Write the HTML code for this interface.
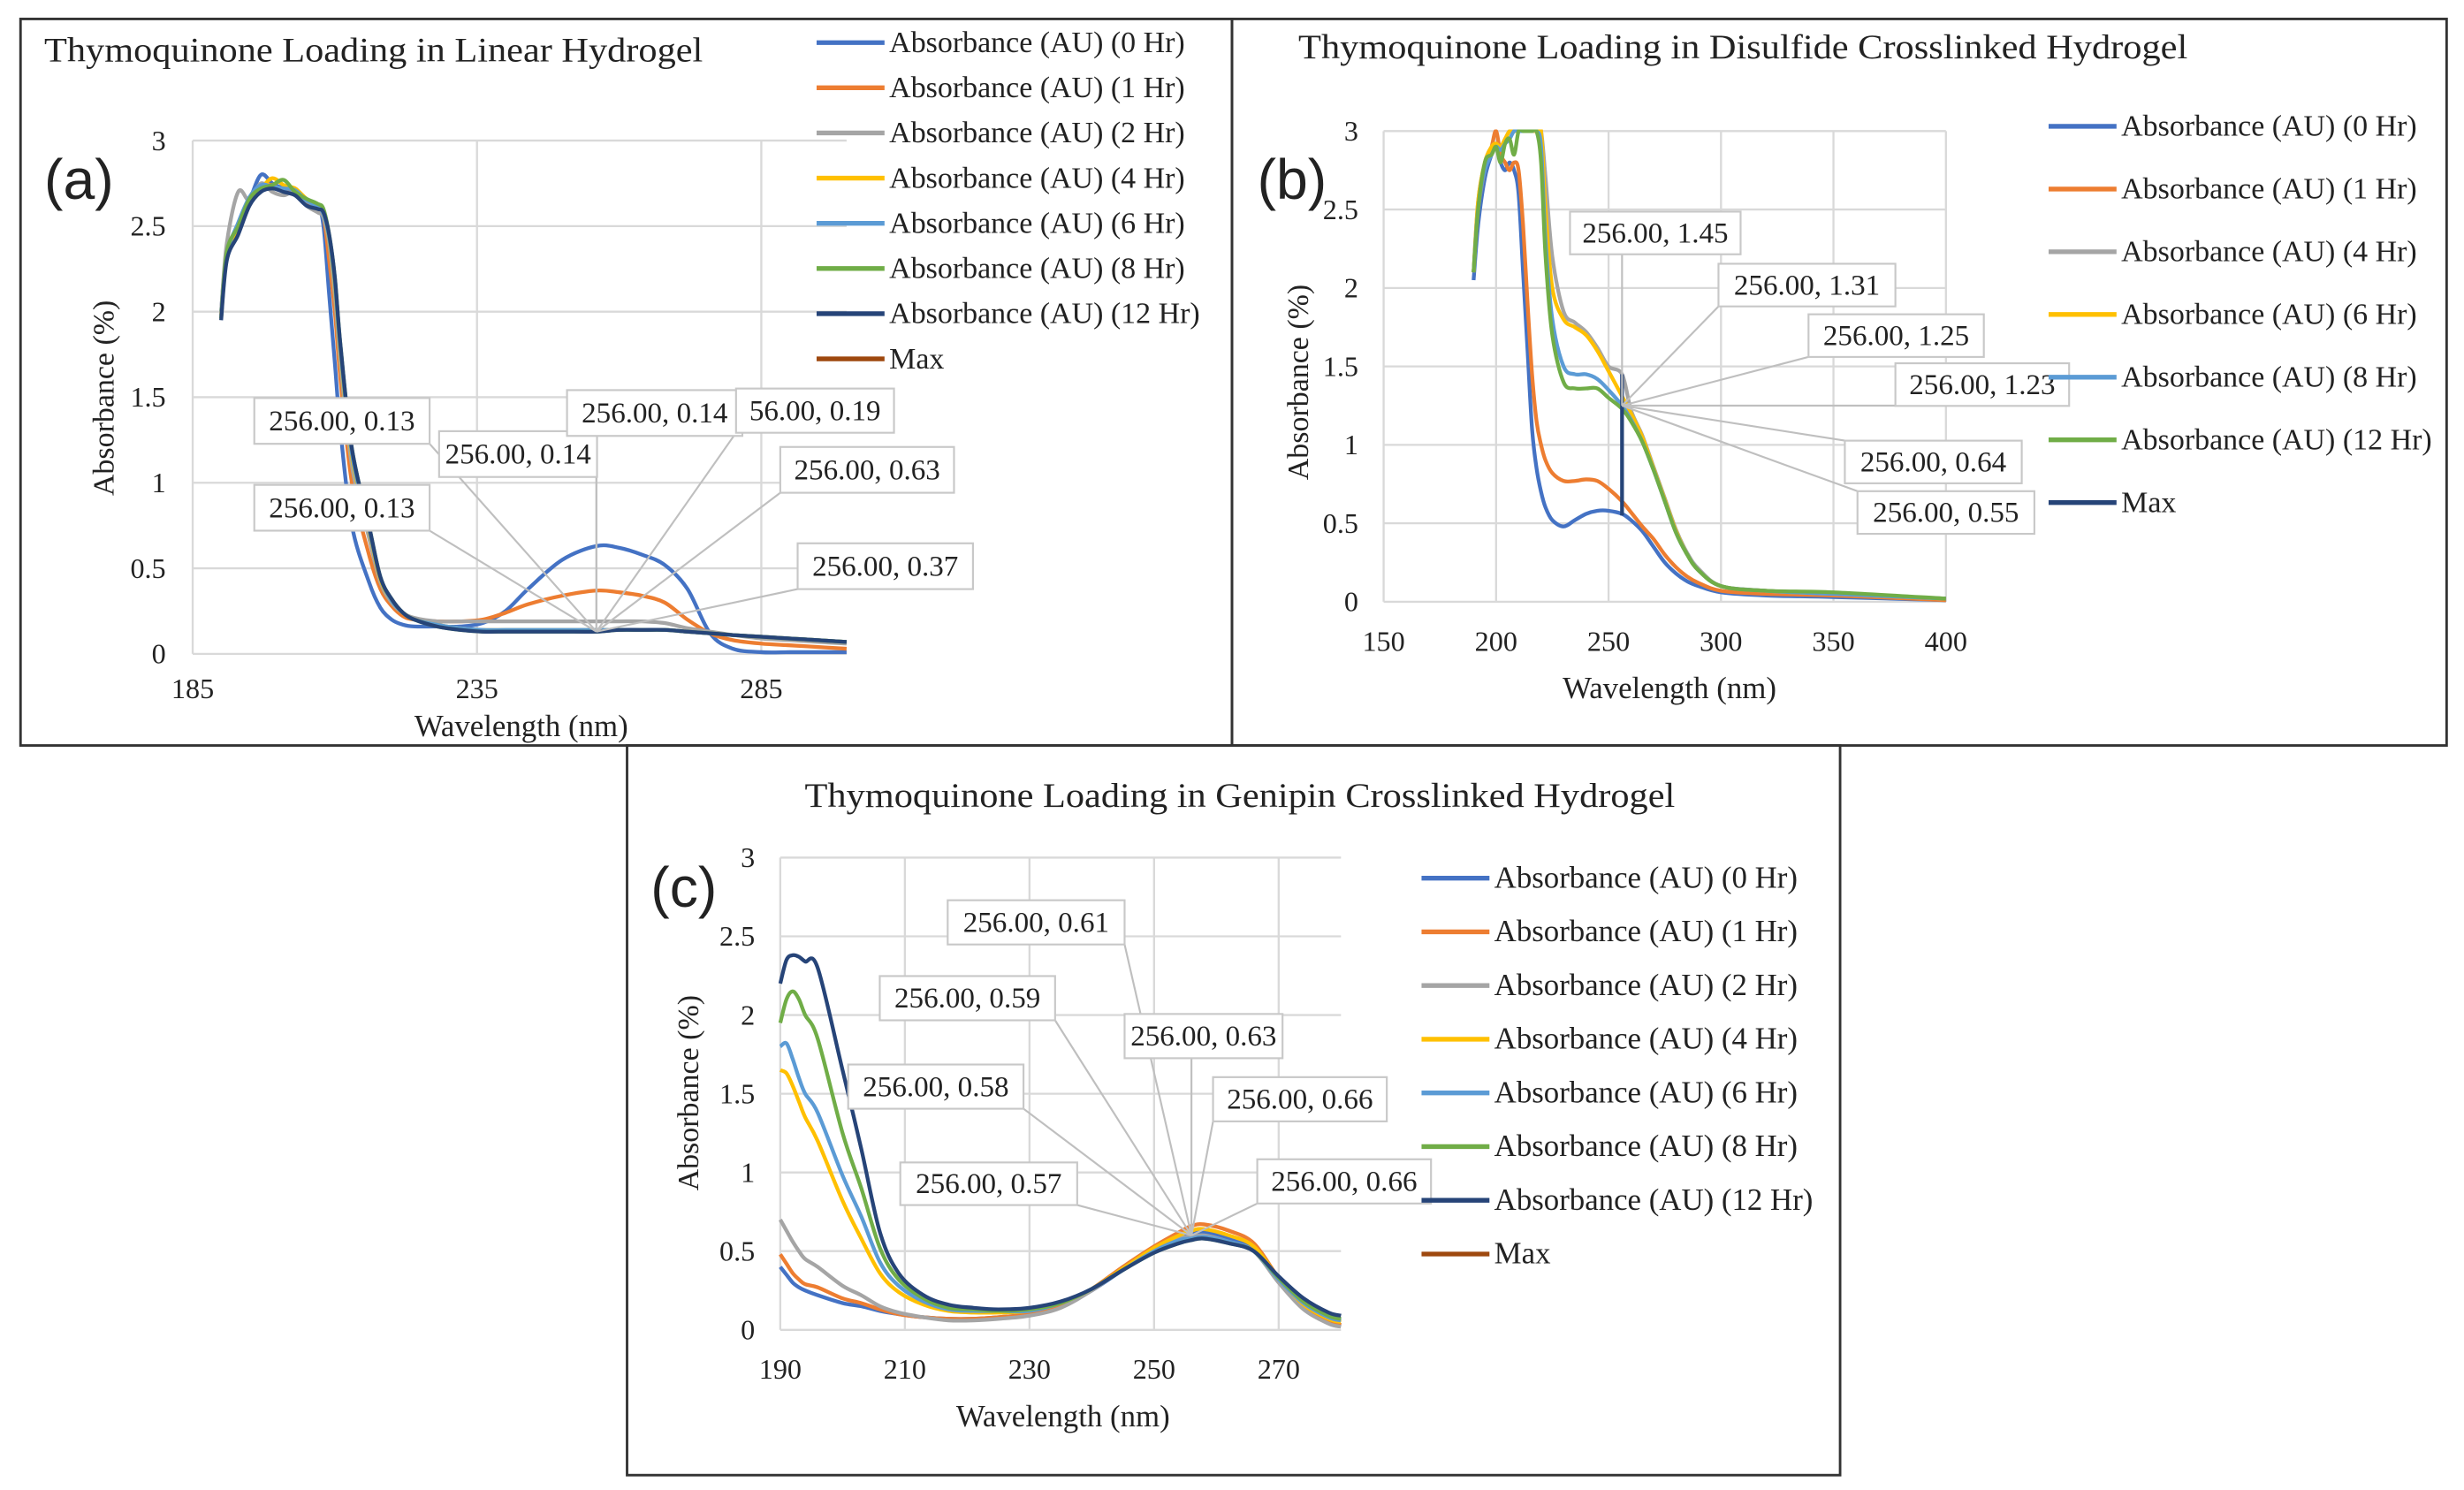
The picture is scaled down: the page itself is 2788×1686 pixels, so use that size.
<!DOCTYPE html>
<html><head><meta charset="utf-8"><style>
html,body{margin:0;padding:0;background:#fff;}
svg{display:block;}
text{font-family:"Liberation Serif",serif;fill:#222;}
</style></head><body>
<svg id="root" width="2788" height="1686" viewBox="0 0 1560 943.4" preserveAspectRatio="none" xmlns="http://www.w3.org/2000/svg">
<rect x="0" y="0" width="1560" height="944" fill="#fff"/>
<rect x="13" y="12" width="767" height="460" fill="none" stroke="#333" stroke-width="1.6"/>
<rect x="780" y="12" width="769" height="460" fill="none" stroke="#333" stroke-width="1.6"/>
<rect x="397" y="472" width="768" height="462" fill="none" stroke="#333" stroke-width="1.6"/>
<g id="ga"></g>
<g id="gb"></g>
<g id="gc"></g>
</svg>
<script>
// ---------- Data: chart (a) ----------
const wlA = [190,191,193,195,197,199,201,203,205,207,208,209,210,211,213,216,218,220,222,224,228,232,236,240,244,250,256,260,264,268,272,276,280,285,290,295,300];
const a0 = [2.0,2.35,2.5,2.65,2.8,2.75,2.72,2.7,2.65,2.62,2.5,2.1,1.7,1.3,0.75,0.42,0.27,0.2,0.17,0.16,0.16,0.16,0.18,0.25,0.38,0.55,0.63,0.62,0.58,0.52,0.38,0.12,0.03,0.01,0.01,0.01,0.01];
const a1 = [1.98,2.32,2.48,2.64,2.72,2.74,2.7,2.72,2.64,2.6,2.56,2.3,2.0,1.6,1.0,0.58,0.38,0.28,0.22,0.2,0.19,0.19,0.2,0.24,0.29,0.34,0.37,0.36,0.34,0.3,0.2,0.12,0.08,0.06,0.05,0.04,0.03];
const a2 = [2.0,2.4,2.7,2.65,2.75,2.7,2.68,2.7,2.62,2.58,2.55,2.4,2.1,1.7,1.1,0.68,0.42,0.3,0.24,0.21,0.19,0.19,0.19,0.19,0.19,0.19,0.19,0.19,0.19,0.18,0.15,0.13,0.11,0.09,0.08,0.07,0.06];
const a4 = [1.96,2.32,2.5,2.66,2.72,2.78,2.74,2.72,2.66,2.62,2.57,2.42,2.15,1.75,1.15,0.72,0.44,0.31,0.24,0.2,0.17,0.15,0.14,0.14,0.14,0.14,0.14,0.14,0.14,0.14,0.13,0.12,0.11,0.1,0.09,0.08,0.07];
const a6 = [1.97,2.33,2.52,2.67,2.74,2.73,2.72,2.71,2.65,2.61,2.57,2.43,2.17,1.77,1.17,0.73,0.45,0.31,0.24,0.2,0.17,0.15,0.14,0.14,0.14,0.14,0.14,0.14,0.14,0.14,0.13,0.12,0.11,0.1,0.09,0.08,0.07];
const a8 = [1.96,2.35,2.5,2.66,2.72,2.74,2.77,2.7,2.66,2.63,2.6,2.45,2.2,1.8,1.2,0.75,0.45,0.32,0.24,0.2,0.16,0.14,0.13,0.13,0.13,0.13,0.13,0.14,0.14,0.14,0.13,0.12,0.11,0.1,0.09,0.08,0.07];
const a12 = [1.95,2.3,2.45,2.62,2.7,2.72,2.7,2.68,2.62,2.6,2.58,2.45,2.2,1.8,1.2,0.75,0.45,0.32,0.24,0.2,0.16,0.14,0.13,0.13,0.13,0.13,0.13,0.14,0.14,0.14,0.13,0.12,0.11,0.1,0.09,0.08,0.07];
const xTicksA = [185,235,285];
const yTicks = [0,0.5,1,1.5,2,2.5,3];
const yTickLabels = ["0","0.5","1","1.5","2","2.5","3"];
const labelsA = ["256.00, 0.13","256.00, 0.14","256.00, 0.14","56.00, 0.19","256.00, 0.63","256.00, 0.13","256.00, 0.37"];
const legendA = ["Absorbance (AU) (0 Hr)","Absorbance (AU) (1 Hr)","Absorbance (AU) (2 Hr)","Absorbance (AU) (4 Hr)","Absorbance (AU) (6 Hr)","Absorbance (AU) (8 Hr)","Absorbance (AU) (12 Hr)","Max"];

// ---------- Data: chart (b) ----------
const wlB = [190,192,195,198,200,202,204,206,208,210,212,214,216,218,220,222,225,230,235,240,245,250,256,260,265,270,275,280,285,290,300,320,350,400];
const b0 = [2.05,2.4,2.7,2.85,2.9,2.8,2.75,2.8,2.75,2.6,2.1,1.6,1.1,0.85,0.7,0.6,0.52,0.48,0.52,0.56,0.58,0.58,0.56,0.52,0.45,0.35,0.25,0.18,0.13,0.1,0.06,0.04,0.03,0.01];
const b1 = [2.1,2.5,2.75,2.9,3.0,2.85,2.8,2.75,2.8,2.75,2.4,1.9,1.45,1.15,1.0,0.9,0.82,0.77,0.77,0.78,0.77,0.72,0.64,0.57,0.48,0.4,0.3,0.22,0.16,0.12,0.07,0.05,0.04,0.01];
const b4 = [2.1,2.55,2.8,2.9,2.92,2.9,2.95,3,3,3,3,3,3,3,3,2.7,2.2,1.85,1.78,1.72,1.62,1.5,1.45,1.22,1.06,0.86,0.66,0.46,0.31,0.21,0.1,0.07,0.05,0.02];
const b6 = [2.1,2.55,2.8,2.9,2.92,2.9,2.95,3,3,3,3,3,3,3,3,2.5,2.0,1.8,1.75,1.7,1.6,1.47,1.31,1.2,1.05,0.85,0.65,0.45,0.3,0.2,0.1,0.07,0.05,0.02];
const b8 = [2.1,2.5,2.75,2.85,2.9,2.88,2.92,2.95,3,3,3,3,3,3,2.9,2.3,1.8,1.5,1.45,1.45,1.42,1.35,1.25,1.16,1.02,0.84,0.64,0.44,0.3,0.2,0.1,0.07,0.05,0.02];
const b12 = [2.1,2.5,2.8,2.85,2.9,2.8,2.92,2.95,2.85,3,3,3,3,3,2.8,2.2,1.7,1.4,1.36,1.36,1.36,1.3,1.23,1.15,1.02,0.84,0.64,0.44,0.3,0.2,0.1,0.07,0.06,0.02];
const maxBx = [256,256];
const maxBy = [0.55,1.45];
const xTicksB = [150,200,250,300,350,400];
const labelsB = ["256.00, 1.45","256.00, 1.31","256.00, 1.25","256.00, 1.23","256.00, 0.64","256.00, 0.55"];
const legendB = ["Absorbance (AU) (0 Hr)","Absorbance (AU) (1 Hr)","Absorbance (AU) (4 Hr)","Absorbance (AU) (6 Hr)","Absorbance (AU) (8 Hr)","Absorbance (AU) (12 Hr)","Max"];

// ---------- Data: chart (c) ----------
const wlC = [190,191,192,193,194,196,200,203,206,209,213,217,221,225,230,235,240,245,250,254,256,258,262,266,270,274,278,280];
const c0 = [0.4,0.35,0.3,0.27,0.25,0.22,0.17,0.15,0.12,0.1,0.08,0.07,0.07,0.08,0.1,0.15,0.25,0.38,0.5,0.57,0.61,0.62,0.58,0.52,0.32,0.15,0.05,0.03];
const c1 = [0.48,0.42,0.36,0.32,0.29,0.27,0.2,0.17,0.13,0.1,0.08,0.07,0.07,0.08,0.1,0.15,0.26,0.4,0.53,0.62,0.66,0.67,0.63,0.55,0.33,0.15,0.06,0.03];
const c2 = [0.7,0.63,0.56,0.5,0.45,0.4,0.28,0.22,0.15,0.11,0.08,0.06,0.06,0.07,0.09,0.14,0.25,0.39,0.51,0.58,0.59,0.6,0.56,0.5,0.3,0.13,0.04,0.02];
const c4 = [1.65,1.63,1.55,1.45,1.35,1.2,0.82,0.58,0.36,0.24,0.16,0.12,0.11,0.11,0.12,0.17,0.26,0.39,0.52,0.6,0.63,0.64,0.6,0.53,0.33,0.16,0.07,0.05];
const c6 = [1.8,1.82,1.72,1.6,1.5,1.38,0.98,0.72,0.43,0.28,0.18,0.13,0.12,0.12,0.12,0.17,0.26,0.38,0.5,0.57,0.58,0.59,0.56,0.5,0.32,0.17,0.08,0.06];
const c8 = [1.95,2.1,2.15,2.1,2.0,1.85,1.25,0.9,0.52,0.32,0.2,0.14,0.13,0.12,0.13,0.17,0.26,0.38,0.49,0.55,0.57,0.58,0.55,0.5,0.33,0.18,0.09,0.07];
const c12 = [2.2,2.35,2.38,2.37,2.34,2.3,1.65,1.15,0.62,0.36,0.22,0.16,0.14,0.13,0.14,0.18,0.26,0.38,0.49,0.55,0.57,0.58,0.55,0.5,0.34,0.2,0.11,0.09];
const xTicksC = [190,210,230,250,270];
const labelsC = ["256.00, 0.61","256.00, 0.59","256.00, 0.63","256.00, 0.58","256.00, 0.66","256.00, 0.57","256.00, 0.66"];
const legendC = ["Absorbance (AU) (0 Hr)","Absorbance (AU) (1 Hr)","Absorbance (AU) (2 Hr)","Absorbance (AU) (4 Hr)","Absorbance (AU) (6 Hr)","Absorbance (AU) (8 Hr)","Absorbance (AU) (12 Hr)","Max"];

const COL = {h0:"#4472C4",h1:"#ED7D31",h2:"#A5A5A5",h4:"#FFC000",h6:"#5B9BD5",h8:"#70AD47",h12:"#264478",max:"#9E480E"};
const NS = "http://www.w3.org/2000/svg";
function mk(tag, attrs, parent){const e=document.createElementNS(NS,tag);for(const k in attrs)e.setAttribute(k,attrs[k]);parent.appendChild(e);return e;}
function smoothPath(pts){
  let d="M"+pts[0][0].toFixed(2)+","+pts[0][1].toFixed(2);
  for(let i=0;i<pts.length-1;i++){
    const p0=pts[Math.max(0,i-1)],p1=pts[i],p2=pts[i+1],p3=pts[Math.min(pts.length-1,i+2)];
    const c1x=p1[0]+(p2[0]-p0[0])/6,c1y=p1[1]+(p2[1]-p0[1])/6;
    const c2x=p2[0]-(p3[0]-p1[0])/6,c2y=p2[1]-(p3[1]-p1[1])/6;
    d+=" C"+c1x.toFixed(2)+","+c1y.toFixed(2)+" "+c2x.toFixed(2)+","+c2y.toFixed(2)+" "+p2[0].toFixed(2)+","+p2[1].toFixed(2);
  }
  return d;
}

function drawChart(g, L, xs, series, xTicks, legendNames, legendCols, labels, id){
  const sx = v => L.x0 + (v - L.xmin) / (L.xmax - L.xmin) * (L.x1 - L.x0);
  const sy = v => L.y0 - v / 3 * (L.y0 - L.y1);
  const t = mk("text",{x:L.titleX,y:L.titleY,"font-size":22,"text-anchor":L.titleAnchor,textLength:L.titleLen,lengthAdjust:"spacingAndGlyphs"},g);
  t.textContent = L.title;
  
  
  const pl = mk("text",{x:L.panelX,y:L.panelY,"font-size":36,style:'font-family:"Liberation Sans",sans-serif'},g);
  pl.textContent = L.panel;
  
  
  yTicks.forEach((v,i)=>{
    const ln = mk("line",{x1:L.x0,x2:L.x1,y1:sy(v),y2:sy(v),stroke:"#d9d9d9","stroke-width":1.3},g);
    
    
    const tx = mk("text",{x:L.x0-L.yLabOff,y:sy(v)+6,"font-size":18,"text-anchor":"end"},g);
    tx.textContent = yTickLabels[i];
    
    
  });
  xTicks.forEach(v=>{
    const ln = mk("line",{x1:sx(v),x2:sx(v),y1:L.y0,y2:L.y1,stroke:"#d9d9d9","stroke-width":1.3},g);
    
    
    const tx = mk("text",{x:sx(v),y:L.xLabY,"font-size":18,"text-anchor":"middle"},g);
    tx.textContent = String(v);
    
    
  });
  const yt = mk("text",{x:0,y:0,"font-size":19,"text-anchor":"middle",transform:`translate(${L.yTitleX},${L.yTitleY}) rotate(-90)`},g);
  yt.textContent = L.yTitle;
  
  
  const xt = mk("text",{x:L.xTitleX,y:L.xTitleY,"font-size":19.5,"text-anchor":"middle"},g);
  xt.textContent = "Wavelength (nm)";
  
  
  const cp = mk("clipPath",{id:"clip"+id},g);
  mk("rect",{x:L.x0-2,y:L.y1-1,width:L.x1-L.x0+4,height:L.y0-L.y1+3},cp);
  const sg = mk("g",{"clip-path":`url(#clip${id})`},g);
  series.forEach(s=>{
    const pts = xs.map((x,i)=>[sx(x), sy(s.v[i])]);
    const p = mk("path",{d:smoothPath(pts),fill:"none",stroke:s.c,"stroke-width":2.4,"stroke-linejoin":"round"},sg);
    
    
  });
  if (L.maxLine){
    const p = mk("line",{x1:sx(maxBx[0]),x2:sx(maxBx[1]),y1:sy(maxBy[0]),y2:sy(maxBy[1]),stroke:COL.h12,"stroke-width":2.4},sg);
    
    
  }
  const px = sx(256), py = sy(L.labelTargetY);
  labels.forEach((txt,i)=>{
    const b = L.boxes[i];
    const cx = Math.max(b[0], Math.min(b[0]+b[2], px)), cy = Math.max(b[1], Math.min(b[1]+b[3], py));
    const ln = mk("line",{x1:cx,y1:cy,x2:px,y2:py,stroke:"#bfbfbf","stroke-width":1.2},g);
    
    
  });
  labels.forEach((txt,i)=>{
    const b = L.boxes[i];
    const r = mk("rect",{x:b[0],y:b[1],width:b[2],height:b[3],fill:"#fff",stroke:"#c8c8c8","stroke-width":1.2},g);
    
    
    const tx = mk("text",{x:b[0]+b[2]/2,y:b[1]+b[3]/2+6,"font-size":18.5,"text-anchor":"middle"},g);
    tx.textContent = txt;
    
    
  });
  legendNames.forEach((n,i)=>{
    const y = L.legY0 + i*L.legDy;
    const ln = mk("line",{x1:L.legX,x2:L.legX+43,y1:y,y2:y,stroke:legendCols[i],"stroke-width":3},g);
    
    
    const tx = mk("text",{x:L.legX+46,y:y+6,"font-size":L.legSize},g);
    tx.textContent = n;
    
    
  });
}

drawChart(document.getElementById("ga"),
 {x0:122,x1:536,xmin:185,xmax:300,y0:414,y1:89,title:"Thymoquinone Loading in Linear Hydrogel",titleX:28,titleY:39,titleLen:417,titleAnchor:"start",
  panel:"(a)",panelX:28,panelY:126,yLabOff:17,xLabY:442,yTitle:"Absorbance (%)",yTitleX:72,yTitleY:252,xTitleX:330,xTitleY:466,
  labelTargetY:0.13,legX:517,legY0:27,legDy:28.6,legSize:19,
  boxes:[[161,252,111,29],[278,273,100,29],[359,247,111,29],[466,246,100,28],[494,283,110,29],[161,307,111,29],[505,344,111,29]]},
 wlA,[{n:"0hr",v:a0,c:COL.h0},{n:"1hr",v:a1,c:COL.h1},{n:"2hr",v:a2,c:COL.h2},{n:"4hr",v:a4,c:COL.h4},{n:"6hr",v:a6,c:COL.h6},{n:"8hr",v:a8,c:COL.h8},{n:"12hr",v:a12,c:COL.h12}],
 xTicksA, legendA, [COL.h0,COL.h1,COL.h2,COL.h4,COL.h6,COL.h8,COL.h12,COL.max], labelsA, "a");

drawChart(document.getElementById("gb"),
 {x0:876,x1:1232,xmin:150,xmax:400,y0:381,y1:83,title:"Thymoquinone Loading in Disulfide Crosslinked Hydrogel",titleX:822,titleY:37,titleLen:563,titleAnchor:"start",
  panel:"(b)",panelX:796,panelY:126,yLabOff:16,xLabY:412,yTitle:"Absorbance (%)",yTitleX:828,yTitleY:242,xTitleX:1057,xTitleY:442,
  labelTargetY:1.25,maxLine:true,legX:1297,legY0:80,legDy:39.7,legSize:19,
  boxes:[[994,134,108,27],[1088,167,112,27],[1145,199,111,27],[1200,230,110,27],[1168,279,112,27],[1176,311,112,27]]},
 wlB,[{n:"0hr",v:b0,c:COL.h0},{n:"1hr",v:b1,c:COL.h1},{n:"4hr",v:b4,c:COL.h2},{n:"6hr",v:b6,c:COL.h4},{n:"8hr",v:b8,c:COL.h6},{n:"12hr",v:b12,c:COL.h8}],
 xTicksB, legendB, [COL.h0,COL.h1,COL.h2,COL.h4,COL.h6,COL.h8,COL.h12], labelsB, "b");

drawChart(document.getElementById("gc"),
 {x0:494,x1:849,xmin:190,xmax:280,y0:842,y1:543,title:"Thymoquinone Loading in Genipin Crosslinked Hydrogel",titleX:785,titleY:511,titleLen:551,titleAnchor:"middle",
  panel:"(c)",panelX:412,panelY:574,yLabOff:16,xLabY:873,yTitle:"Absorbance  (%)",yTitleX:442,yTitleY:692,xTitleX:673,xTitleY:903,
  labelTargetY:0.6,legX:900,legY0:556,legDy:34,legSize:19.5,
  boxes:[[600,570,112,28],[557,618,111,28],[712,642,100,28],[537,674,111,28],[768,682,110,28],[570,736,112,27],[796,734,110,28]]},
 wlC,[{n:"0hr",v:c0,c:COL.h0},{n:"1hr",v:c1,c:COL.h1},{n:"2hr",v:c2,c:COL.h2},{n:"4hr",v:c4,c:COL.h4},{n:"6hr",v:c6,c:COL.h6},{n:"8hr",v:c8,c:COL.h8},{n:"12hr",v:c12,c:COL.h12}],
 xTicksC, legendC, [COL.h0,COL.h1,COL.h2,COL.h4,COL.h6,COL.h8,COL.h12,COL.max], labelsC, "c");
</script>
</body></html>
